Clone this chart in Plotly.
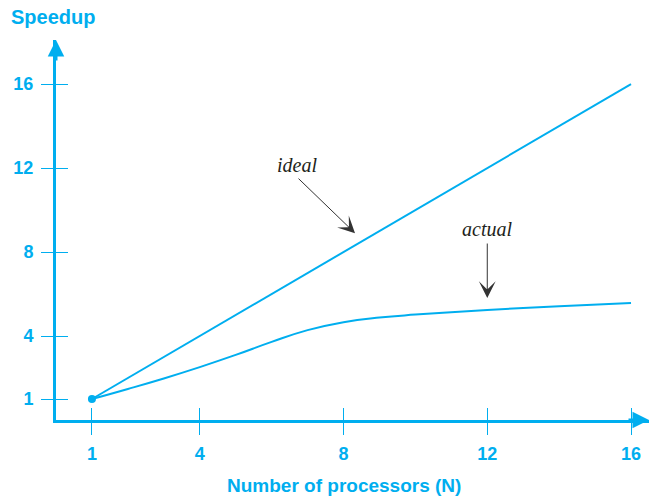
import plotly.graph_objects as go

BLUE = "#00AEEF"

# data
n_ideal = [1, 16]
s_ideal = [1, 16]

n_actual = [1, 2, 3, 4, 5, 6, 7, 8, 9, 10, 12, 14, 16]
s_actual = [1, 1.48, 1.98, 2.52, 3.1, 3.72, 4.28, 4.66, 4.88, 5.02, 5.24, 5.42, 5.57]

tick_vals_x = [1, 4, 8, 12, 16]
tick_vals_y = [1, 4, 8, 12, 16]

fig = go.Figure()
fig.add_trace(go.Scatter(x=n_ideal, y=s_ideal, mode="lines",
                         line=dict(color=BLUE, width=2)))
fig.add_trace(go.Scatter(x=n_actual, y=s_actual, mode="lines",
                         line=dict(color=BLUE, width=2, shape="spline", smoothing=1.3)))
fig.add_trace(go.Scatter(x=[n_actual[0]], y=[s_actual[0]], mode="markers",
                         marker=dict(color=BLUE, size=8)))

tickfont = dict(family="Liberation Sans, Arial", size=18, color=BLUE, weight="bold")
xr = [0, 16.5]
yr = [0, 18.1]

axis_common = dict(showgrid=False, zeroline=False, tickcolor=BLUE, tickwidth=1, ticklen=12)

fig.update_layout(
    width=650, height=499,
    margin=dict(l=56, r=1, t=40, b=79),
    paper_bgcolor="white", plot_bgcolor="white",
    showlegend=False,
    title=dict(text="<b>Speedup</b>", x=11 / 650, xanchor="left", y=1 - 17 / 499, yanchor="middle",
               font=dict(family="Liberation Sans, Arial", size=20, color=BLUE)),
    xaxis=dict(range=xr, tickvals=tick_vals_x, ticks="outside", showline=True, linecolor=BLUE,
               linewidth=3, tickfont=tickfont, ticklabelstandoff=3, **axis_common),
    yaxis=dict(range=yr, tickvals=tick_vals_y, ticks="outside", showline=True, linecolor=BLUE,
               linewidth=3, tickfont=tickfont, ticklabelstandoff=4, **axis_common),
    xaxis2=dict(range=xr, tickvals=tick_vals_x, ticks="inside", overlaying="x", anchor="y",
                side="bottom", showticklabels=False, showline=False, **axis_common),
    yaxis2=dict(range=yr, tickvals=tick_vals_y, ticks="inside", overlaying="y", anchor="x",
                side="left", showticklabels=False, showline=False, **axis_common),
)
# dummy trace so the overlay axes are drawn
fig.add_trace(go.Scatter(x=[None], y=[None], xaxis="x2", yaxis="y2", showlegend=False))

label_font = dict(family="Liberation Serif, Times New Roman", size=20, color="#231F20", style="italic")

annotations = [
    # axis arrowheads
    dict(x=xr[1], y=0, xref="x", yref="y", ax=-22, ay=0, text="", showarrow=True,
         arrowhead=2, arrowsize=1.1, arrowwidth=3, arrowcolor=BLUE, standoff=0),
    dict(x=0, y=yr[1], xref="x", yref="y", ax=0, ay=22, text="", showarrow=True,
         arrowhead=2, arrowsize=1.1, arrowwidth=3, arrowcolor=BLUE, standoff=0),
    # ideal
    dict(x=6.7, y=12.14, xref="x", yref="y", text="ideal", showarrow=False, font=label_font),
    dict(x=8.32, y=8.9, xref="x", yref="y", ax=-58, ay=-56, text="", showarrow=True,
         arrowhead=3, arrowsize=2.8, arrowwidth=1, arrowcolor="#333333"),
    # actual
    dict(x=12, y=9.1, xref="x", yref="y", text="actual", showarrow=False, font=label_font),
    dict(x=12, y=5.81, xref="x", yref="y", ax=0, ay=-56, text="", showarrow=True,
         arrowhead=3, arrowsize=2.8, arrowwidth=1, arrowcolor="#333333"),
    # x axis title
    dict(x=8, y=-65 / 380, xref="x", yref="paper", text="<b>Number of processors (N)</b>",
         showarrow=False, yanchor="middle",
         font=dict(family="Liberation Sans, Arial", size=19, color=BLUE)),
]
fig.update_layout(annotations=annotations)

fig.write_html("out.html", config={"displayModeBar": False},
               post_script="document.body.style.margin='0';")
